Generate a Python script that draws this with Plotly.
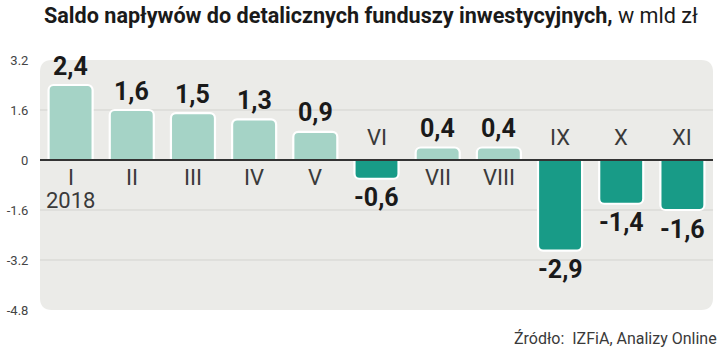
import plotly.graph_objects as go

months = ["I", "II", "III", "IV", "V", "VI", "VII", "VIII", "IX", "X", "XI"]
values = [2.4, 1.6, 1.5, 1.3, 0.9, -0.6, 0.4, 0.4, -2.9, -1.4, -1.6]
value_labels = ["2,4", "1,6", "1,5", "1,3", "0,9", "-0,6", "0,4", "0,4", "-2,9", "-1,4", "-1,6"]
year_label = "2018"
tick_vals = [3.2, 1.6, 0, -1.6, -3.2, -4.8]
tick_text = ["3.2", "1.6", "0", "-1.6", "-3.2", "-4.8"]

POS = "#a5d3c6"
NEG = "#189b87"
BG = "#ebebe8"

colors = [POS if v >= 0 else NEG for v in values]

fig = go.Figure()
fig.add_trace(go.Bar(
    x=months, y=values, width=0.72,
    marker=dict(color=colors, line=dict(color="white", width=2.2), cornerradius=5),
    hoverinfo="skip",
))

W, H = 720, 348
ml, mr, mt, mb = 35, 7, 60, 38
pw, ph = W - ml - mr, H - mt - mb
rx, ry = 12 / pw, 12 / ph
path = (f"M {rx},0 L {1-rx},0 Q 1,0 1,{ry} L 1,{1-ry} Q 1,1 {1-rx},1 "
        f"L {rx},1 Q 0,1 0,{1-ry} L 0,{ry} Q 0,0 {rx},0 Z")
shapes = [dict(type="path", path=path, xref="paper", yref="paper",
               fillcolor=BG, line=dict(width=0), layer="below")]
for t in tick_vals:
    if t in (3.2, -4.8):
        continue
    shapes.append(dict(type="line", xref="paper", yref="y", x0=0, x1=1, y0=t, y1=t,
                       line=dict(color="#333333" if t == 0 else "#d3d3cf",
                                 width=2 if t == 0 else 1),
                       layer="below" if t != 0 else "above"))

NARROW = "Liberation Sans Narrow, Roboto, sans-serif"
annotations = []
VFONT = dict(family=NARROW, size=25, color="#1a1a1a")
MFONT = dict(family=NARROW, size=22, color="#3a3a3a")
for m, v, lab in zip(months, values, value_labels):
    annotations.append(dict(x=m, y=v, text=f"<b>{lab}</b>", showarrow=False,
                            yshift=19 if v >= 0 else -19, font=VFONT,
                            yanchor="middle"))
    annotations.append(dict(x=m, y=0, text=m, showarrow=False,
                            yshift=-17 if v >= 0 else 23, font=MFONT, yanchor="middle"))
annotations.append(dict(x=months[0], y=0, text=year_label, showarrow=False, yshift=-40,
                        font=MFONT, yanchor="middle"))

annotations.append(dict(xref="paper", yref="paper", x=-ml / pw + 37 / pw, y=1 + 45 / ph,
                        xanchor="left", yanchor="middle", showarrow=False,
                        text="<b>Saldo napływów do detalicznych funduszy inwestycyjnych,</b> w mld zł",
                        font=dict(family=NARROW, size=21.6, color="#1a1a1a")))
annotations.append(dict(xref="paper", yref="paper", x=1 + 6 / pw, y=-28 / ph,
                        xanchor="right", yanchor="middle", showarrow=False,
                        text="Źródło:  IZFiA, Analizy Online",
                        font=dict(family=NARROW, size=16, color="#3a3a3a")))

fig.update_layout(
    width=W, height=H,
    margin=dict(l=ml, r=mr, t=mt, b=mb),
    paper_bgcolor="white", plot_bgcolor="rgba(0,0,0,0)",
    showlegend=False, bargap=0.28,
    shapes=shapes, annotations=annotations,
    xaxis=dict(range=[-0.5, 10.5], showticklabels=False, showgrid=False, zeroline=False,
               fixedrange=True),
    yaxis=dict(range=[-4.8, 3.2], tickvals=tick_vals, ticktext=tick_text,
               showgrid=False, zeroline=False, ticks="outside", ticklen=8,
               tickcolor="rgba(0,0,0,0)",
               tickfont=dict(family="Roboto, sans-serif", size=13, color="#444444"),
               fixedrange=True),
)

fig.write_html("out.html")
